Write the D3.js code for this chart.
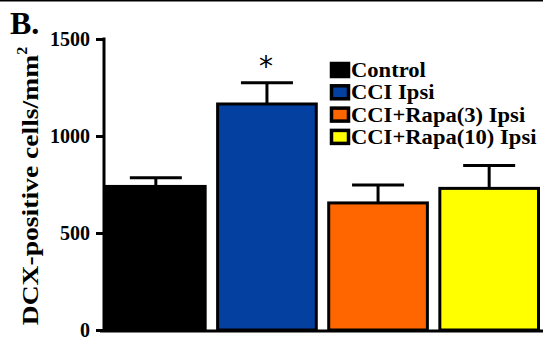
<!DOCTYPE html>
<html><head><meta charset="utf-8">
<script src="https://cdn.jsdelivr.net/npm/d3@7"></script>
<style>body{margin:0;background:#fff}svg{display:block}</style>
</head><body>
<script>
const categories = ["Control", "CCI Ipsi", "CCI+Rapa(3) Ipsi", "CCI+Rapa(10) Ipsi"];
const means = [740, 1165, 655, 730];
const sems = [45, 110, 92, 118];
const colors = ["#000000", "#0440a0", "#ff6600", "#ffff00"];
const yTicks = [0, 500, 1000, 1500];
const significant = [false, true, false, false];

const W = 543, H = 345;
const svg = d3.select("body").append("svg").attr("width", W).attr("height", H);
const font = "'Liberation Serif', 'Times New Roman', serif";

// top border line
svg.append("line").attr("x1", 0).attr("x2", W).attr("y1", 0.5).attr("y2", 0.5)
  .attr("stroke", "#000").attr("stroke-width", 2);

const y = d3.scaleLinear().domain([0, 1500]).range([330, 39]);
const x = d3.scaleBand().domain(categories).range([105, 540]).paddingInner(0.085).paddingOuter(0);

// bars
svg.selectAll("rect.bar").data(categories).enter().append("rect")
  .attr("x", d => x(d) + 1.5)
  .attr("y", (d, i) => y(means[i]))
  .attr("width", x.bandwidth() - 3)
  .attr("height", (d, i) => y(0) - y(means[i]))
  .attr("fill", (d, i) => colors[i])
  .attr("stroke", "#000").attr("stroke-width", 3);

// error bars (upward)
const g = svg.append("g");
categories.forEach((c, i) => {
  const cx = x(c) + x.bandwidth() / 2;
  g.append("line").attr("x1", cx).attr("x2", cx)
    .attr("y1", y(means[i])).attr("y2", y(means[i] + sems[i]))
    .attr("stroke", "#000").attr("stroke-width", 3);
  g.append("line").attr("x1", cx - 26).attr("x2", cx + 26)
    .attr("y1", y(means[i] + sems[i])).attr("y2", y(means[i] + sems[i]))
    .attr("stroke", "#000").attr("stroke-width", 3);
  if (significant[i]) {
    g.append("text").attr("x", cx - 1).attr("y", y(means[i] + sems[i]) - 7)
      .attr("text-anchor", "middle").attr("font-family", "'DejaVu Sans', sans-serif")
      .attr("font-size", 28).attr("font-weight", "normal").text("*");
  }
});

// x axis line
svg.append("line").attr("x1", 100).attr("x2", W).attr("y1", 331).attr("y2", 331)
  .attr("stroke", "#000").attr("stroke-width", 3);

// y axis
const yAxis = d3.axisLeft(y).tickValues(yTicks).tickSize(8).tickPadding(6).tickFormat(d3.format("d"));
const ya = svg.append("g").attr("transform", "translate(104,0)").call(yAxis);
ya.select(".domain").attr("stroke", "#000").attr("stroke-width", 3).attr("d", `M0,${y(1500)-1.5}V${y(0)+1}`);
ya.selectAll(".tick line").attr("stroke", "#000").attr("stroke-width", 3);
ya.selectAll(".tick text").attr("font-family", font).attr("font-weight", "bold")
  .attr("font-size", 20).attr("fill", "#000");

// y label
svg.append("text").attr("transform", "translate(38,186) rotate(-90) scale(1.15,1)")
  .attr("text-anchor", "middle").attr("font-family", font).attr("font-weight", "bold")
  .attr("font-size", 24)
  .html("DCX-positive cells/mm<tspan font-size='14' dy='-11'>2</tspan>");

// panel letter
svg.append("text").attr("x", 10).attr("y", 34).attr("font-family", font)
  .attr("font-weight", "bold").attr("font-size", 32).text("B.");

// legend
const leg = svg.append("g");
categories.forEach((c, i) => {
  const ly = 70 + i * 22.3;
  leg.append("rect").attr("x", 331.5).attr("y", ly - 6.5).attr("width", 17).attr("height", 13)
    .attr("fill", colors[i]).attr("stroke", "#000").attr("stroke-width", 3.5);
  leg.append("text").attr("transform", `translate(351,${ly + 7}) scale(1.13,1)`)
    .attr("font-family", font)
    .attr("font-weight", "bold").attr("font-size", 20).text(c);
});
</script>
</body></html>
